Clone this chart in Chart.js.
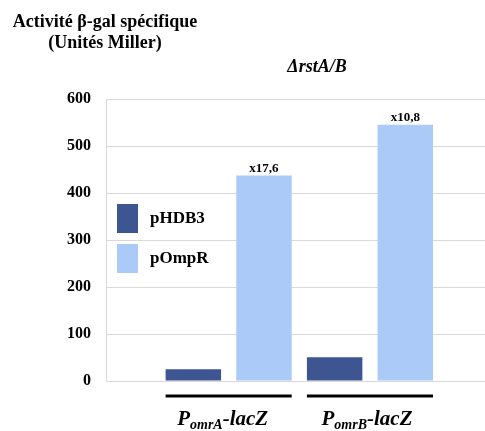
<!DOCTYPE html>
<html>
<head>
<meta charset="utf-8">
<script src="https://cdn.jsdelivr.net/npm/chart.js@4"></script>
<style>
  html, body { margin: 0; padding: 0; background: #fff; }
  canvas { display: block; }
</style>
</head>
<body>
<canvas id="chart" width="485" height="431"></canvas>
<script>
// données
const promoters = ["omrA", "omrB"];
const seriesNames = ["pHDB3", "pOmpR"];
const pHDB3 = [24.8, 50.5];
const pOmpR = [437, 545];
const foldLabels = ["x17,6", "x10,8"];
const yTicks = [0, 100, 200, 300, 400, 500, 600];
const titleLines = ["Activité β-gal spécifique", "(Unités Miller)"];
const strainLabel = "ΔrstA/B";

const colors = ["#3d5590", "#abcaf7"];
const FONT = '"Liberation Serif", "Times New Roman", serif';

// ============= Annotations (titre, légende, étiquettes) =============

const annotations = {
  id: "annotations",
  afterDraw(chart) {
    const ctx = chart.ctx;
    const m0 = chart.getDatasetMeta(0);
    const m1 = chart.getDatasetMeta(1);
    ctx.save();
    ctx.fillStyle = "#000";
    ctx.textBaseline = "alphabetic";
    ctx.textAlign = "center";

    // titre axe Y
    ctx.font = `bold 18px ${FONT}`;
    ctx.fillText(titleLines[0], 105, 27);
    ctx.fillText(titleLines[1], 105, 48);

    // souche
    ctx.font = `italic bold 18px ${FONT}`;
    ctx.fillText(strainLabel, 317, 72);

    // facteurs d'induction au-dessus des barres pOmpR
    ctx.font = `bold 13px ${FONT}`;
    m1.data.forEach((bar, i) => ctx.fillText(foldLabels[i], bar.x, bar.y - 4));

    // traits + noms des promoteurs
    promoters.forEach((p, i) => {
      const b0 = m0.data[i], b1 = m1.data[i];
      const left = b0.x - b0.width / 2;
      const right = b1.x + b1.width / 2;
      ctx.fillRect(left, 394.5, right - left, 3);

      const big = `italic bold 21px ${FONT}`;
      const small = `italic bold 14px ${FONT}`;
      ctx.font = big;
      const wP = ctx.measureText("P").width;
      const wTail = ctx.measureText("-lacZ").width;
      ctx.font = small;
      const wSub = ctx.measureText(p).width;
      const total = wP + wSub + wTail;
      let x = (left + right) / 2 - total / 2 - (i === 0 ? 6 : 3);
      ctx.textAlign = "left";
      ctx.font = big;
      ctx.fillText("P", x, 424.5);
      x += wP;
      ctx.font = small;
      ctx.fillText(p, x, 428.5);
      x += wSub;
      ctx.font = big;
      ctx.fillText("-lacZ", x, 424.5);
      ctx.textAlign = "center";
    });

    // légende
    ctx.textAlign = "left";
    ctx.textBaseline = "middle";
    ctx.font = `bold 17px ${FONT}`;
    seriesNames.forEach((name, i) => {
      const top = 204 + i * 40;
      ctx.fillStyle = colors[i];
      ctx.fillRect(117, top, 21, 29);
      ctx.fillStyle = "#000";
      ctx.fillText(name, 150, top + 15);
    });
    ctx.restore();
  },
};

// ============= Chart =============

new Chart(document.getElementById("chart"), {
  type: "bar",
  data: {
    datasets: [
      {
        label: seriesNames[0],
        data: pHDB3.map((v, i) => ({ x: i + 1, y: v })),
        backgroundColor: colors[0],
      },
      {
        label: seriesNames[1],
        data: pOmpR.map((v, i) => ({ x: i + 1, y: v })),
        backgroundColor: colors[1],
      },
    ],
  },
  options: {
    responsive: false,
    animation: false,
    devicePixelRatio: 1,
    categoryPercentage: 1.0,
    barPercentage: 0.785,
    layout: { padding: { top: 99, bottom: 50, right: 0, left: 0 } },
    plugins: {
      legend: { display: false },
      tooltip: { enabled: false },
    },
    scales: {
      x: {
        type: "linear",
        display: false,
        offset: false,
        grid: { offset: false },
        min: 0.132,
        max: 2.814,
        afterBuildTicks: (scale) => { scale.ticks = promoters.map((_, i) => ({ value: i + 1 })); },
      },
      y: {
        min: 0,
        max: 600,
        afterFit: (scale) => { scale.width = 106; },
        afterBuildTicks: (scale) => { scale.ticks = yTicks.map((v) => ({ value: v })); },
        border: { display: true, color: "#d9d9d9" },
        grid: { color: "#d9d9d9", drawTicks: false },
        ticks: {
          padding: 15,
          color: "#000",
          font: { family: FONT, size: 16, weight: "bold" },
        },
      },
    },
  },
  plugins: [annotations],
});
</script>
</body>
</html>
